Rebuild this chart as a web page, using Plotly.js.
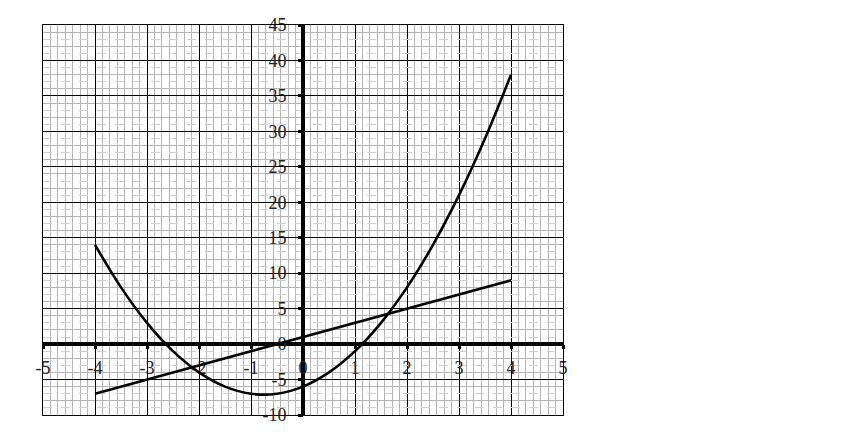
<!DOCTYPE html>
<html>
<head>
<meta charset="utf-8">
<script src="https://cdn.plot.ly/plotly-3.0.1.min.js"></script>
<style>html,body{margin:0;padding:0;background:#fff;}#chart{width:864px;height:432px;}</style>
</head>
<body>
<div id="chart"></div>
<script>
// Curve
const curveX = [-4, -3.5, -3, -2.5, -2, -1.5, -1, -0.5, 0, 0.5, 1, 1.5, 2, 2.5, 3, 3.5, 4];
const curveY = [14, 8, 3, -1, -4, -6, -7, -7, -6, -4, -1, 3, 8, 14, 21, 29, 38];
// Straight line
const lineX = [-4, 4];
const lineY = [-7, 9];
// Tick values
const xTicks = [-5, -4, -3, -2, -1, 0, 1, 2, 3, 4, 5];
const yTicks = [-10, -5, 0, 5, 10, 15, 20, 25, 30, 35, 40, 45];

const xRange = [-5, 5];
const yRange = [-10, 45];
const tickFont = {family: 'Liberation Serif, DejaVu Serif, serif', size: 18, color: '#222'};

// dashed light minor grid positions (odd units that are not major ticks)
const dashedGrid = [];
for (let v = yRange[0]; v <= yRange[1]; v++) {
  if (Math.abs(v) % 2 === 1 && v % 5 !== 0) dashedGrid.push(v);
}

const traces = [
  {x: curveX, y: curveY, type: 'scatter', mode: 'lines',
   line: {color: '#000', width: 2.6, shape: 'spline', smoothing: 1}, hoverinfo: 'skip', showlegend: false},
  {x: lineX, y: lineY, type: 'scatter', mode: 'lines',
   line: {color: '#000', width: 2.6}, hoverinfo: 'skip', showlegend: false},
  {x: [], y: [], xaxis: 'x2', yaxis: 'y2', type: 'scatter', mode: 'lines', showlegend: false}
];

const layout = {
  width: 864, height: 432,
  margin: {l: 43, r: 301, t: 25, b: 17},
  paper_bgcolor: '#fff', plot_bgcolor: '#fff',
  showlegend: false,
  xaxis2: {
    range: xRange, overlaying: 'x', anchor: 'y2',
    showgrid: false, zeroline: false, showticklabels: false, ticks: '',
    showline: true, mirror: true, linecolor: '#000', linewidth: 1, fixedrange: true
  },
  yaxis2: {
    range: yRange, overlaying: 'y', anchor: 'x2',
    tickmode: 'array', tickvals: dashedGrid,
    showgrid: true, gridcolor: '#d0d0d0', gridwidth: 1, griddash: 'dash',
    zeroline: false, showticklabels: false, ticks: '',
    showline: true, mirror: true, linecolor: '#000', linewidth: 1, fixedrange: true
  },
  xaxis: {
    range: xRange, tickmode: 'array', tickvals: xTicks, ticktext: xTicks.map(String),
    showgrid: true, gridcolor: '#000', gridwidth: 1,
    minor: {tickmode: 'linear', dtick: 1/7, tick0: 0, showgrid: true, gridcolor: '#b4b4b4', gridwidth: 1},
    zeroline: true, zerolinecolor: '#000', zerolinewidth: 4,
    anchor: 'free', position: 10/55,
    ticks: 'outside', ticklen: 4, tickwidth: 3, tickcolor: '#000',
    ticklabelstandoff: 3,
    tickfont: tickFont, showline: false, fixedrange: true, layer: 'below traces'
  },
  yaxis: {
    range: yRange, tickmode: 'array', tickvals: yTicks, ticktext: yTicks.map(String),
    showgrid: true, gridcolor: '#000', gridwidth: 1,
    minor: {tickmode: 'linear', dtick: 2, tick0: 0, showgrid: true, gridcolor: '#b4b4b4', gridwidth: 1},
    zeroline: true, zerolinecolor: '#000', zerolinewidth: 4,
    anchor: 'free', position: 0.5,
    ticks: 'outside', ticklen: 5, tickwidth: 3, tickcolor: '#000',
    ticklabelstandoff: 8,
    tickfont: tickFont, showline: false, fixedrange: true, layer: 'below traces'
  }
};

Plotly.newPlot('chart', traces, layout, {displayModeBar: false, staticPlot: true});
</script>
</body>
</html>
